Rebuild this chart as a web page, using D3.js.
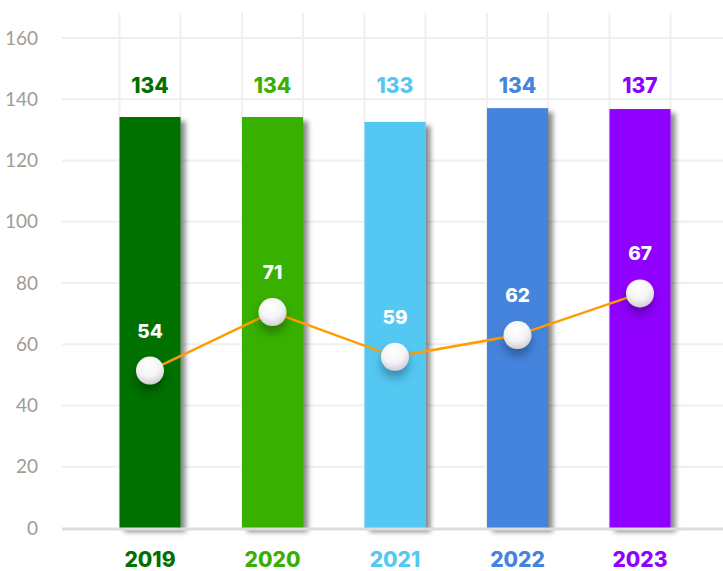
<!DOCTYPE html>
<html><head><meta charset="utf-8">
<script src="https://cdn.jsdelivr.net/npm/d3@7/dist/d3.min.js"></script>
<style>body{margin:0;background:#fff}svg{display:block}</style>
</head><body>
<svg id="c" width="723" height="571"></svg>
<script>
const years = ["2019","2020","2021","2022","2023"];
const barValues = [134.2, 134.2, 132.6, 137.1, 136.8];
const barLabels = ["134","134","133","134","137"];
const lineValues = [51.4, 70.5, 55.9, 63.0, 76.6];
const lineLabels = ["54","71","59","62","67"];
const colors = ["#007000","#39b000","#52c8f2","#4484dd","#9000ff"];
const yTicks = [0,20,40,60,80,100,120,140,160];

const svg = d3.select("#c");
const y = d3.scaleLinear().domain([0,160]).range([528,38]);
const x = d3.scaleBand().domain(years).range([88.75,701.25]).padding(0);
const barW = 61;
const cx = d => x(d) + x.bandwidth()/2;

const defs = svg.append("defs");
const f1 = defs.append("filter").attr("id","bs").attr("x","-20%").attr("y","-10%").attr("width","160%").attr("height","130%");
f1.append("feDropShadow").attr("dx",5).attr("dy",4).attr("stdDeviation",2.5).attr("flood-color","#000").attr("flood-opacity",0.45);
const f2 = defs.append("filter").attr("id","cs").attr("x","-80%").attr("y","-80%").attr("width","260%").attr("height","300%");
f2.append("feDropShadow").attr("dx",0).attr("dy",7).attr("stdDeviation",5).attr("flood-color","#000").attr("flood-opacity",0.3);
const rg = defs.append("radialGradient").attr("id","cg").attr("cx","45%").attr("cy","30%").attr("r","75%");
rg.append("stop").attr("offset","0%").attr("stop-color","#ffffff");
rg.append("stop").attr("offset","55%").attr("stop-color","#f4f4f6");
rg.append("stop").attr("offset","100%").attr("stop-color","#c9c9cf");

// horizontal grid
svg.append("g").selectAll("line").data(yTicks.filter(t=>t>0)).join("line")
  .attr("x1",62).attr("x2",723).attr("y1",d=>y(d)).attr("y2",d=>y(d))
  .attr("stroke","#efefef").attr("stroke-width",2);
// vertical grid at bar edges
const edges = years.flatMap(d=>[cx(d)-barW/2, cx(d)+barW/2]);
svg.append("g").selectAll("line").data(edges).join("line")
  .attr("x1",d=>d).attr("x2",d=>d).attr("y1",13).attr("y2",528)
  .attr("stroke","#efefef").attr("stroke-width",2);

// y labels
svg.append("g").selectAll("text").data(yTicks).join("text")
  .attr("x",38).attr("y",d=>y(d)).attr("dy","0.35em").attr("text-anchor","end")
  .attr("font-family","Lato, sans-serif").attr("font-weight",400).attr("font-size",19)
  .attr("fill","#a09b93").text(d=>d);

// bars
svg.append("g").selectAll("rect").data(years).join("rect")
  .attr("x",d=>cx(d)-barW/2).attr("width",barW)
  .attr("y",(d,i)=>y(barValues[i])).attr("height",(d,i)=>y(0)-y(barValues[i]))
  .attr("fill",(d,i)=>colors[i]).attr("filter","url(#bs)");

// baseline
svg.append("line").attr("x1",62).attr("x2",723).attr("y1",529).attr("y2",529)
  .attr("stroke","#dcdcdc").attr("stroke-width",3);

// bar labels
svg.append("g").selectAll("text").data(years).join("text")
  .attr("x",d=>cx(d)).attr("y",93).attr("text-anchor","middle")
  .attr("font-family","Inter, sans-serif").attr("font-weight",800).attr("font-size",21)
  .attr("fill",(d,i)=>colors[i]).text((d,i)=>barLabels[i]);

// year labels
svg.append("g").selectAll("text").data(years).join("text")
  .attr("x",d=>cx(d)).attr("y",567).attr("text-anchor","middle")
  .attr("font-family","Inter, sans-serif").attr("font-weight",800).attr("font-size",21)
  .attr("fill",(d,i)=>colors[i]).text(d=>d);

// line
const line = d3.line().x((d,i)=>cx(years[i])).y(d=>y(d));
svg.append("path").datum(lineValues).attr("d",line)
  .attr("fill","none").attr("stroke","#ff9d00").attr("stroke-width",2.5);

// circles
svg.append("g").selectAll("circle").data(lineValues).join("circle")
  .attr("cx",(d,i)=>cx(years[i])).attr("cy",d=>y(d)).attr("r",14)
  .attr("fill","url(#cg)").attr("filter","url(#cs)");

// point labels
svg.append("g").selectAll("text").data(lineValues).join("text")
  .attr("x",(d,i)=>cx(years[i])).attr("y",d=>y(d)-33).attr("text-anchor","middle")
  .attr("font-family","Inter, sans-serif").attr("font-weight",800).attr("font-size",19)
  .attr("fill","#ffffff").text((d,i)=>lineLabels[i]);
</script>
</body></html>
